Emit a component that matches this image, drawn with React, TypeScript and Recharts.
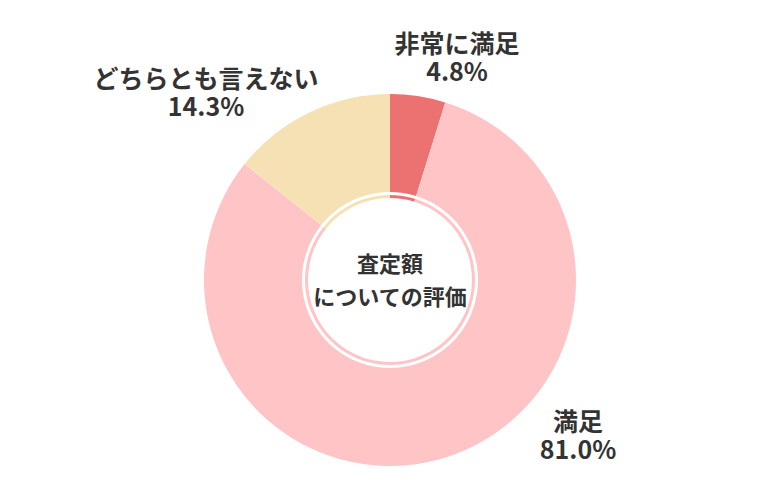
import { PieChart, Pie, Cell } from "recharts";

const CATEGORIES = ["非常に満足", "満足", "どちらとも言えない"];
const VALUES = [4.8, 81.0, 14.3];
const COLORS = ["#ec7272", "#fec4c6", "#f5e1b3"];
const CENTER_TITLE = ["査定額", "についての評価"];

// label offsets from the pie centre, per slice
const LABEL_OFFSET = [
  { dx: 67, dy: -222 },
  { dx: 188, dy: 156 },
  { dx: -184, dy: -187 },
];

const FONT = "'Noto Sans CJK JP', 'Noto Sans', sans-serif";

const data = CATEGORIES.map((name, i) => ({ name, value: VALUES[i] }));

const renderLabel = (props: any) => {
  const { cx, cy, index, name, value } = props;
  const off = LABEL_OFFSET[index];
  const x = cx + off.dx;
  const y = cy + off.dy;
  return (
    <text x={x} textAnchor="middle" fill="#333333" fontFamily={FONT} fontSize={25} fontWeight={700}>
      <tspan x={x} y={y - 5}>{name}</tspan>
      <tspan x={x} y={y + 23}>{`${value.toFixed(1)}%`}</tspan>
    </text>
  );
};

const renderCenter = (props: any) => {
  const { cx, cy } = props;
  return (
    <text x={cx} textAnchor="middle" fill="#333333" fontFamily={FONT} fontSize={22} fontWeight={700}>
      <tspan x={cx} y={cy - 8}>{CENTER_TITLE[0]}</tspan>
      <tspan x={cx} y={cy + 25}>{CENTER_TITLE[1]}</tspan>
    </text>
  );
};

export default function App() {
  return (
    <div style={{ position: "absolute", left: 0, top: 0, width: 780, height: 500, background: "#ffffff" }}>
      <PieChart width={780} height={500} margin={{ top: 0, right: 0, bottom: 0, left: 0 }}>
        <Pie
          data={data}
          dataKey="value"
          nameKey="name"
          cx={390}
          cy={280}
          innerRadius={82}
          outerRadius={186}
          startAngle={90}
          endAngle={-270}
          stroke="none"
          label={renderLabel}
          labelLine={false}
          isAnimationActive={false}
        >
          {data.map((d, i) => (
            <Cell key={d.name} fill={COLORS[i]} />
          ))}
        </Pie>
        <Pie
          data={[{ name: "ring", value: 1 }]}
          dataKey="value"
          cx={390}
          cy={280}
          innerRadius={85}
          outerRadius={88}
          fill="#ffffff"
          stroke="none"
          label={renderCenter}
          labelLine={false}
          isAnimationActive={false}
        />
      </PieChart>
    </div>
  );
}
